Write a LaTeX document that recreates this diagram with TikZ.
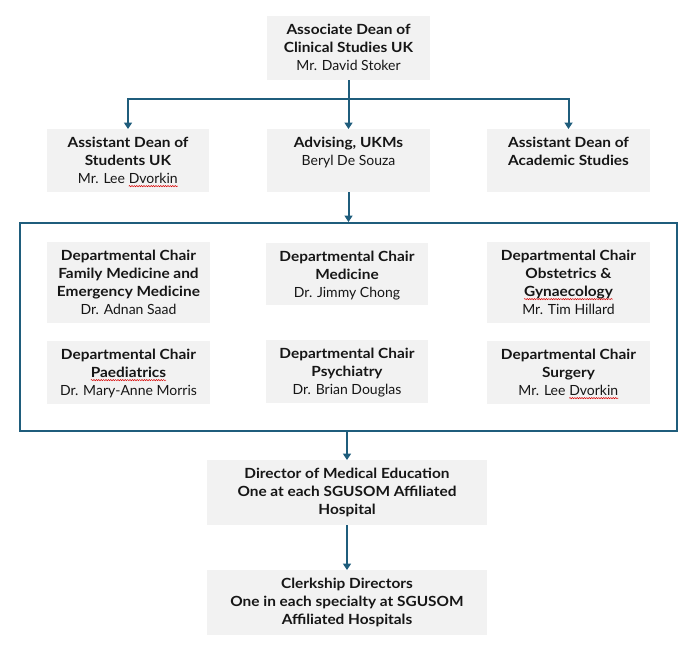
\documentclass[tikz,border=0pt]{standalone}
\usepackage{fontspec}
\setmainfont{Lato}[BoldFeatures={FakeStretch=1.1}]
\usetikzlibrary{arrows.meta,decorations.pathmorphing}
\definecolor{lc}{RGB}{31,93,124}
\definecolor{bxfill}{RGB}{242,242,242}
\definecolor{tx}{RGB}{22,22,22}
\tikzset{
  boxst/.style={fill=bxfill, inner sep=0pt, outer sep=0pt, text=tx},
  framest/.style={draw=lc, line width=2pt, inner sep=0pt},
  ln/.style={draw=lc, line width=2pt},
  arr/.style={-{Triangle[width=8pt,length=6.5pt]}}
}
\newcommand\squig[1]{\tikz[baseline=(sq.base)]{\node[inner sep=0pt,outer sep=0pt](sq){#1};\draw[red!85!black,line width=0.5pt,decorate,decoration={snake,amplitude=0.6pt,segment length=2.4pt}]([yshift=-2.6pt]sq.base west)--([yshift=-2.6pt]sq.base east);}}
\newcommand\orgbox[6]{%
  \node[boxst] (#1) at ({(#2+#4)/2},{(#3+#5)/2})
  {\parbox[c][\dimexpr#5pt-#3pt\relax][t]{\dimexpr#4pt-#2pt\relax}{\centering\fontsize{14}{18}\selectfont\rule{0pt}{18.5pt}#6\par}};}
\begin{document}
\begin{tikzpicture}[x=1pt,y=-1pt]
\useasboundingbox (0,0) rectangle (692,648);
\orgbox{top}{267}{16}{430}{80}{\textbf{Associate Dean of}\\\textbf{Clinical Studies UK}\\Mr. David Stoker}
\orgbox{asd}{47}{129}{209}{192}{\textbf{Assistant Dean of}\\\textbf{Students UK}\\Mr. Lee \squig{Dvorkin}}
\orgbox{adv}{267}{129}{430}{192}{\textbf{Advising, UKMs}\\Beryl De Souza}
\orgbox{aas}{487}{129}{650}{192}{\textbf{Assistant Dean of}\\\textbf{Academic Studies}}
\node[framest, minimum width=657pt, minimum height=208pt] (frame) at (348.5,327) {};
\orgbox{c1}{47}{242}{210}{323}{\textbf{Departmental Chair}\\\textbf{Family Medicine and}\\\textbf{Emergency Medicine}\\Dr. Adnan Saad}
\orgbox{c2}{266}{243}{428}{305}{\textbf{Departmental Chair}\\\textbf{Medicine}\\Dr. Jimmy Chong}
\orgbox{c3}{487}{242}{650}{323}{\textbf{Departmental Chair}\\\textbf{Obstetrics \&}\\\textbf{\squig{Gynaecology}}\\Mr. Tim Hillard}
\orgbox{c4}{47}{341}{210}{404}{\textbf{Departmental Chair}\\\textbf{\squig{Paediatrics}}\\Dr. Mary-Anne Morris}
\orgbox{c5}{266}{340}{428}{403}{\textbf{Departmental Chair}\\\textbf{Psychiatry}\\Dr. Brian Douglas}
\orgbox{c6}{487}{341}{650}{404}{\textbf{Departmental Chair}\\\textbf{Surgery}\\Mr. Lee \squig{Dvorkin}}
\orgbox{dme}{207}{460}{487}{525}{\textbf{Director of Medical Education}\\\textbf{One at each SGUSOM Affiliated}\\\textbf{Hospital}}
\orgbox{cd}{207}{570}{487}{635}{\textbf{Clerkship Directors}\\\textbf{One in each specialty at SGUSOM}\\\textbf{Affiliated Hospitals}}
\coordinate (hub) at (348.5,99);
\draw[ln,arr] (top.south) -- (adv.north);
\draw[ln,arr] (hub) -| (asd.north);
\draw[ln,arr] (hub) -| (aas.north);
\draw[ln,arr] (adv.south) -- (frame.north);
\draw[ln,arr] (frame.south -| dme.north) -- (dme.north);
\draw[ln,arr] (dme.south) -- (cd.north);
\end{tikzpicture}
\end{document}
